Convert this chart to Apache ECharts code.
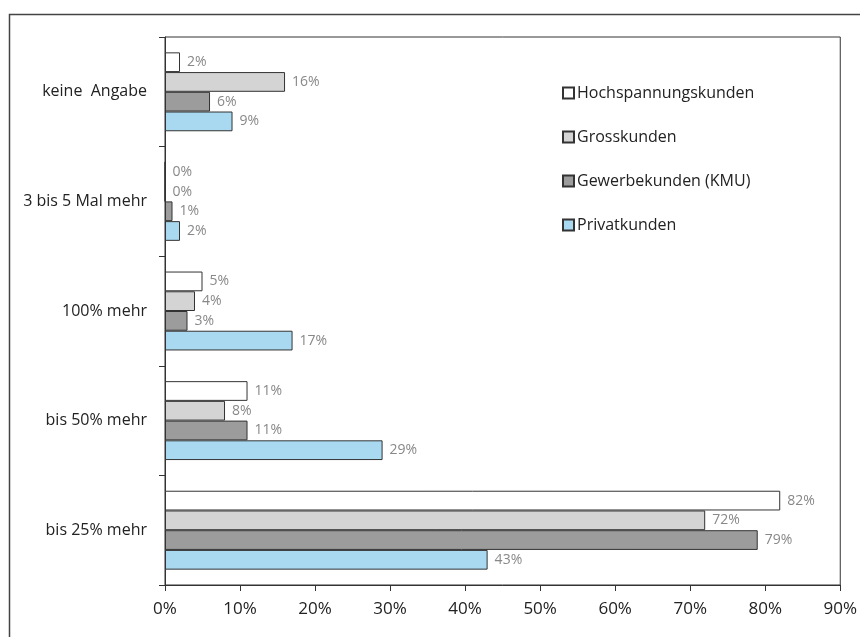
<!DOCTYPE html>
<html>
<head>
<meta charset="utf-8">
<script src="https://cdn.jsdelivr.net/npm/echarts@6/dist/echarts.min.js"></script>
<style>
  html, body { margin: 0; padding: 0; background: #fff; }
  #chart { width: 860px; height: 637px; }
</style>
</head>
<body>
<div id="chart"></div>
<script>
// categories from bottom to top
var categories = ['bis 25% mehr', 'bis 50% mehr', '100% mehr', '3 bis 5 Mal mehr', 'keine  Angabe'];
var seriesNames = ['Hochspannungskunden', 'Grosskunden', 'Gewerbekunden (KMU)', 'Privatkunden'];
var hochspannung = [82, 11, 5, 0, 2];
var gross = [72, 8, 4, 0, 16];
var gewerbe = [79, 11, 3, 1, 6];
var privat = [43, 29, 17, 2, 9];
var xTicks = [0, 10, 20, 30, 40, 50, 60, 70, 80, 90];

var colors = ['#ffffff', '#d4d4d4', '#9c9c9c', '#a9d9f1'];
var values = [hochspannung, gross, gewerbe, privat];

var myChart = echarts.init(document.getElementById('chart'));

var series = [];
for (var i = 0; i < values.length; i++) {
    series.push({
        name: seriesNames[i],
        type: 'bar',
        data: values[i],
        barGap: '0%',
        barCategoryGap: '28%',
        itemStyle: { color: colors[i], borderColor: '#333', borderWidth: 1 },
        label: {
            show: true,
            position: 'right',
            distance: 7,
            formatter: '{c}%',
            color: '#888',
            fontSize: 14,
            fontFamily: 'Open Sans'
        }
    });
}

var option = {
    backgroundColor: '#fff',
    animation: false,
    graphic: [{
        type: 'rect',
        left: 7, top: 12,
        shape: { width: 900, height: 700 },
        style: { fill: 'none', stroke: '#444', lineWidth: 1.5 },
        z: -1
    }],
    legend: {
        orient: 'vertical',
        left: 557,
        top: 78,
        data: seriesNames,
        icon: 'rect',
        itemWidth: 11,
        itemHeight: 11,
        itemGap: 24,
        textStyle: { fontSize: 16, color: '#222', fontFamily: 'Open Sans', lineHeight: 20, padding: [0, 0, 0, -2] }
    },
    grid: {
        left: 165, top: 37, right: 15, bottom: 52,
        show: true,
        borderColor: '#333',
        borderWidth: 1,
        containLabel: false
    },
    xAxis: {
        type: 'value',
        min: 0,
        max: 90,
        interval: 10,
        axisLine: { show: true, lineStyle: { color: '#333' } },
        axisTick: { show: true, length: 6, lineStyle: { color: '#333' } },
        splitLine: { show: false },
        axisLabel: {
            formatter: function (v) { return xTicks.indexOf(v) >= 0 ? v + '%' : ''; },
            fontSize: 17,
            color: '#222',
            margin: 16,
            fontFamily: 'Open Sans'
        }
    },
    yAxis: {
        type: 'category',
        data: categories,
        axisLine: { show: true, lineStyle: { color: '#333' } },
        axisTick: { show: true, length: 6, lineStyle: { color: '#333' } },
        axisLabel: { fontSize: 16, color: '#222', margin: 18, fontFamily: 'Open Sans' }
    },
    series: series
};
myChart.setOption(option);
</script>
</body>
</html>
